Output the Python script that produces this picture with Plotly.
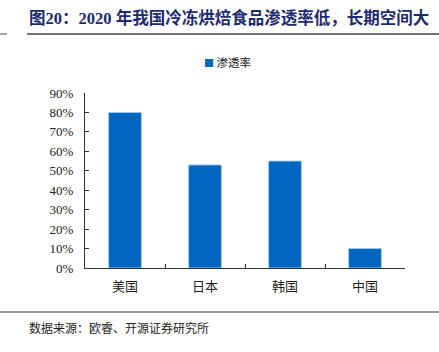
import plotly.graph_objects as go

categories = ["美国", "日本", "韩国", "中国"]
penetration = [0.80, 0.53, 0.55, 0.10]
series_name = "渗透率"
title_text = "图20：2020 年我国冷冻烘焙食品渗透率低，长期空间大"
source_text = "数据来源：欧睿、开源证券研究所"

W, H = 439, 352
L, R, T, B = 85, 34, 93, 84
pw = W - L - R
ph = H - T - B

def px_x(x):
    return (x - L) / pw

def px_y(y):
    return 1 - (y - T) / ph

serif = "Liberation Serif, Times New Roman, Noto Sans CJK SC"
bar_color = "#0066bf"

fig = go.Figure()
fig.add_trace(go.Bar(
    x=categories, y=penetration, name=series_name,
    marker=dict(color=bar_color, line=dict(color="#9fc9ec", width=1)),
    width=0.41, showlegend=False,
))

fig.update_layout(
    width=W, height=H,
    margin=dict(l=L, r=R, t=T, b=B),
    paper_bgcolor="white", plot_bgcolor="white",
    font=dict(family=serif, color="#222"),
)
fig.update_yaxes(
    range=[0, 0.9], dtick=0.1, tickformat=".0%",
    showline=True, linecolor="#333", linewidth=1,
    ticks="inside", ticklen=4, tickcolor="#333",
    showgrid=False, zeroline=False,
    tickfont=dict(family=serif, size=13, color="#222"),
    ticklabelstandoff=8,
)
fig.update_xaxes(
    showline=True, linecolor="#333", linewidth=1,
    ticks="inside", ticklen=4, tickcolor="#333", tickson="boundaries",
    showgrid=False,
    tickfont=dict(family="Noto Sans CJK SC", size=13, color="#222"),
    ticklabelstandoff=6,
)

shapes = [
    dict(type="line", xref="paper", yref="paper", x0=px_x(0), x1=px_x(7), y0=px_y(34), y1=px_y(34),
         line=dict(color="#888", width=1.5)),
    dict(type="line", xref="paper", yref="paper", x0=px_x(27), x1=px_x(439), y0=px_y(34), y1=px_y(34),
         line=dict(color="#444", width=1.5)),
    dict(type="line", xref="paper", yref="paper", x0=px_x(0), x1=px_x(439), y0=px_y(312), y1=px_y(312),
         line=dict(color="#777", width=1.5)),
]
fig.update_layout(shapes=shapes)

# legend: coloured square + series name
fig.add_annotation(text="<span style='color:%s;font-size:10px'>■</span> %s" % (bar_color, series_name),
                   xref="paper", yref="paper",
                   x=px_x(202), y=px_y(62), xanchor="left", yanchor="middle", showarrow=False,
                   font=dict(family="Noto Sans CJK SC", size=11.5, color="#222"))

fig.add_annotation(text="<b>" + title_text + "</b>", xref="paper", yref="paper",
                   x=px_x(27), y=px_y(18), xanchor="left", yanchor="middle", showarrow=False,
                   font=dict(family="Liberation Serif, Noto Sans CJK SC", size=16.5, color="#1c2a6e"))
fig.add_annotation(text=source_text, xref="paper", yref="paper",
                   x=px_x(27), y=px_y(327), xanchor="left", yanchor="middle", showarrow=False,
                   font=dict(family="Noto Sans CJK SC", size=12, color="#222"))

fig.write_html("out.html")
